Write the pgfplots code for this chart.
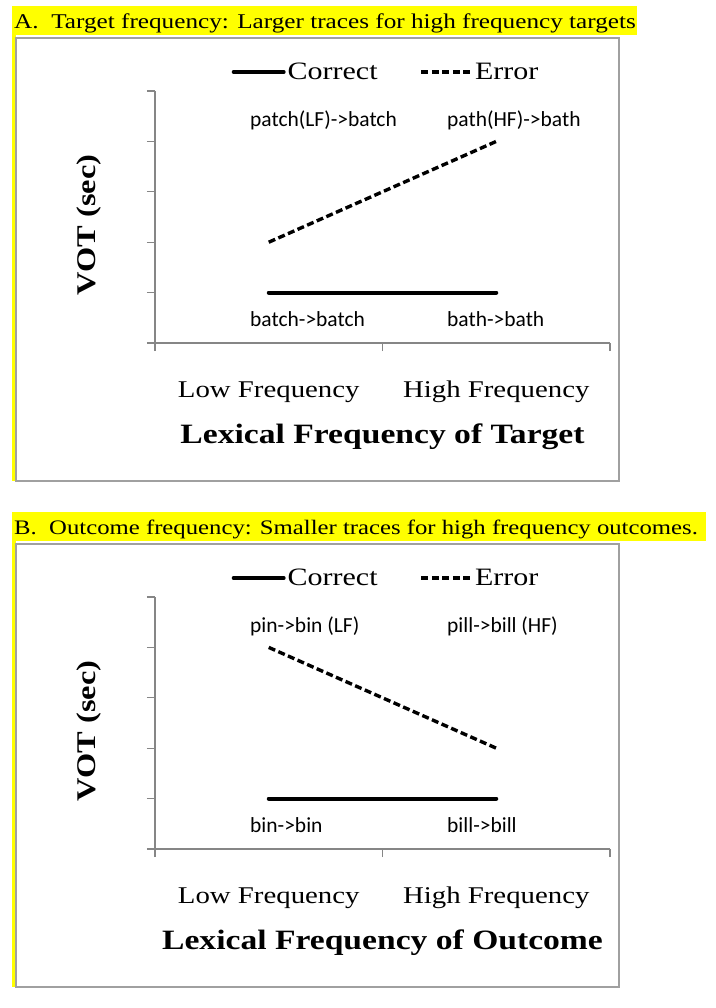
\documentclass[border=0pt]{standalone}
\usepackage{fontspec}
\setmainfont{Liberation Serif}[FakeStretch=1.2]
\newfontfamily\calib{Carlito}
\usepackage{pgfplots}
\pgfplotsset{compat=1.18}
\definecolor{hl}{HTML}{FFFF00}
\definecolor{axgray}{HTML}{868686}
\definecolor{boxgray}{HTML}{A0A0A0}
\newcommand{\fs}[1]{\fontsize{#1}{#1}\selectfont}

\pgfplotsset{panel/.style={
  width=455bp, height=252bp, scale only axis,
  anchor=south west,
  xmin=0, xmax=2, ymin=0, ymax=5,
  axis lines*=left,
  axis line style={axgray, line width=1.3bp},
  every tick/.style={axgray, line width=1.3bp},
  tick align=outside, major tick length=8bp,
  xtick={0,1,2}, xticklabels={,,},
  ytick={0,1,2,3,4,5}, yticklabels={,,,,,},
  extra x ticks={0.5,1.5},
  extra x tick style={major tick length=0bp,
    xticklabel style={anchor=base, yshift=-54bp, font=\fs{24bp}}},
  ylabel={\bfseries VOT (sec)},
  ylabel style={at={(axis description cs:-0.145,0.468)}, anchor=center, font=\fs{27bp}},
  xlabel style={at={(axis description cs:0.5,-0.40)}, anchor=base, font=\fs{28bp}},
  clip=false,
  legend columns=2,
  legend style={draw=none, fill=none, at={(axis description cs:0.5077,1)},
    anchor=center, yshift=19bp, font=\fs{25bp},
    /tikz/every even column/.append style={column sep=40bp}},
  legend image code/.code={\draw[#1] (0bp,0bp) -- (50bp,0bp);},
}}
\tikzset{
  corr/.style={black, line width=4bp, line cap=round},
  err/.style={black, line width=3.4bp, dash pattern=on 7bp off 3.5bp},
  ann/.style={anchor=base west, inner sep=0pt, font=\calib\fs{21.5bp}},
}

\begin{document}
\begin{tikzpicture}
\path (0,0) rectangle (716bp,-1008bp);

% panel A frame
\fill[hl] (12bp,-6bp) rectangle (637bp,-35bp);
\fill[hl] (12bp,-6bp) rectangle (16bp,-481bp);
\draw[boxgray, line width=1.5bp] (16bp,-38bp) rectangle (619bp,-481bp);
\node[anchor=base west, inner sep=0pt, font=\fs{21bp}] at (14bp,-28bp)
  {A.\ \ Target frequency: Larger traces for high frequency targets};

% panel B frame
\fill[hl] (12bp,-512bp) rectangle (706bp,-541bp);
\fill[hl] (12bp,-512bp) rectangle (16bp,-987bp);
\draw[boxgray, line width=1.5bp] (16bp,-544bp) rectangle (619bp,-987bp);
\node[anchor=base west, inner sep=0pt, font=\fs{20.6bp}] at (14bp,-534bp)
  {B.\ \ Outcome frequency: Smaller traces for high frequency outcomes.};

\begin{axis}[panel, at={(155bp,-343bp)},
  extra x tick labels={Low Frequency, High Frequency},
  xlabel={\bfseries Lexical Frequency of Target}]
\addplot[corr] coordinates {(0.5,1) (1.5,1)};
\addlegendentry{Correct}
\addplot[err] coordinates {(0.5,2) (1.5,4)};
\addlegendentry{Error}
\node[ann] at (axis cs:0.4176,4.3) {patch(LF)->batch};
\node[ann] at (axis cs:1.2835,4.3) {path(HF)->bath};
\node[ann] at (axis cs:0.4176,0.33) {batch->batch};
\node[ann] at (axis cs:1.2835,0.33) {bath->bath};
\end{axis}

\begin{axis}[panel, at={(155bp,-849bp)},
  extra x tick labels={Low Frequency, High Frequency},
  xlabel={\bfseries Lexical Frequency of Outcome}]
\addplot[corr] coordinates {(0.5,1) (1.5,1)};
\addlegendentry{Correct}
\addplot[err] coordinates {(0.5,4) (1.5,2)};
\addlegendentry{Error}
\node[ann] at (axis cs:0.4176,4.3) {pin->bin (LF)};
\node[ann] at (axis cs:1.2835,4.3) {pill->bill (HF)};
\node[ann] at (axis cs:0.4176,0.33) {bin->bin};
\node[ann] at (axis cs:1.2835,0.33) {bill->bill};
\end{axis}
\end{tikzpicture}
\end{document}
